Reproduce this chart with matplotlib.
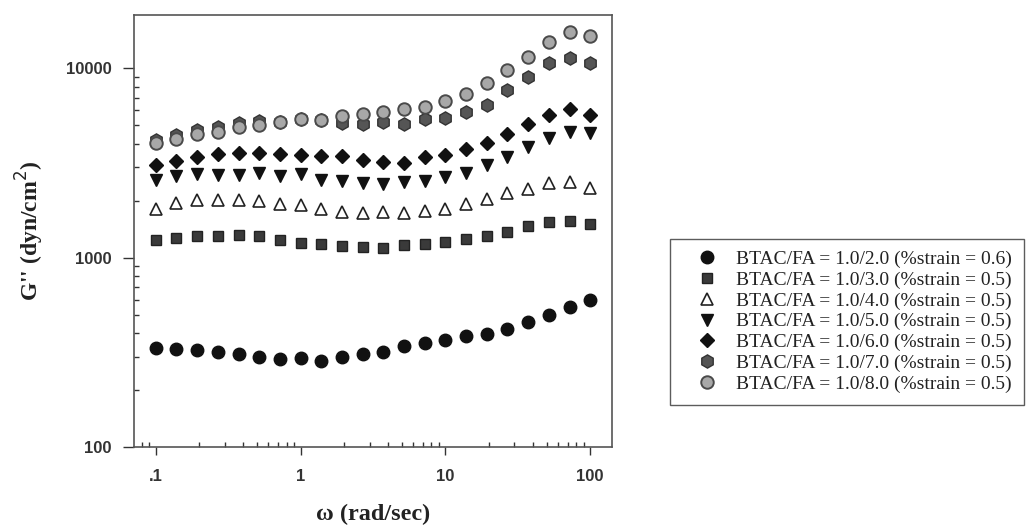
import numpy as np
import matplotlib
matplotlib.use("Agg")
import matplotlib.pyplot as plt
from matplotlib.ticker import FixedLocator, FixedFormatter, LogLocator, NullFormatter

# frequency (rad/sec): 22 points, 7 per decade from 0.1 to 100
omega = [0.1, 0.139, 0.193, 0.268, 0.373, 0.518, 0.72, 1.0, 1.39, 1.93, 2.68,
         3.73, 5.18, 7.2, 10.0, 13.9, 19.3, 26.8, 37.3, 51.8, 72.0, 100.0]

g_20 = [335, 330, 327, 317, 312, 299, 293, 295, 285, 298, 310, 318, 341, 355,
        366, 388, 398, 420, 456, 497, 547, 601]
g_30 = [1237, 1268, 1304, 1304, 1315, 1304, 1237, 1197, 1179, 1150, 1137, 1132,
        1165, 1189, 1212, 1253, 1304, 1369, 1467, 1546, 1565, 1516]
g_40 = [1804, 1957, 2013, 2013, 2030, 1996, 1934, 1894, 1820, 1746, 1734, 1755,
        1734, 1768, 1811, 1934, 2038, 2193, 2322, 2476, 2527, 2350]
g_50 = [2568, 2706, 2786, 2753, 2753, 2806, 2706, 2763, 2568, 2537, 2485, 2466,
        2515, 2537, 2673, 2820, 3083, 3411, 3851, 4318, 4624, 4534]
g_60 = [3109, 3236, 3411, 3512, 3581, 3581, 3554, 3481, 3452, 3440, 3276, 3209,
        3186, 3411, 3481, 3732, 4045, 4496, 5077, 5664, 6071, 5664]
g_70 = [4178, 4441, 4720, 4912, 5158, 5284, 5222, 5395, 5375, 5158, 5077, 5222,
        5120, 5441, 5482, 5896, 6450, 7678, 9030, 10627, 11405, 10627]
g_80 = [4045, 4215, 4479, 4623, 4912, 5015, 5222, 5395, 5375, 5617, 5714, 5896,
        6071, 6221, 6718, 7314, 8393, 9795, 11513, 13722, 15500, 14820]

labels = ["BTAC/FA = 1.0/2.0 (%strain = 0.6)",
          "BTAC/FA = 1.0/3.0 (%strain = 0.5)",
          "BTAC/FA = 1.0/4.0 (%strain = 0.5)",
          "BTAC/FA = 1.0/5.0 (%strain = 0.5)",
          "BTAC/FA = 1.0/6.0 (%strain = 0.5)",
          "BTAC/FA = 1.0/7.0 (%strain = 0.5)",
          "BTAC/FA = 1.0/8.0 (%strain = 0.5)"]

x_ticks = [0.1, 1, 10, 100]
x_ticklabels = [".1", "1", "10", "100"]
y_ticks = [100, 1000, 10000]
y_ticklabels = ["100", "1000", "10000"]

fig = plt.figure(figsize=(10.29, 5.26), dpi=100)
ax = fig.add_axes([0.130, 0.150, 0.465, 0.821])

styles = [
    dict(marker="o", ms=9, mfc="#111111", mec="#111111"),
    dict(marker="s", ms=7.5, mfc="#3a3a3a", mec="#222222"),
    dict(marker="^", ms=8.5, mfc="white", mec="#222222", mew=1.2),
    dict(marker="v", ms=8.5, mfc="#111111", mec="#111111"),
    dict(marker="D", ms=7.5, mfc="#111111", mec="#111111"),
    dict(marker="h", ms=9.5, mfc="#555555", mec="#333333", mew=1.0),
    dict(marker="o", ms=9, mfc="#a8a8a8", mec="#4a4a4a", mew=1.4),
]
series = [g_20, g_30, g_40, g_50, g_60, g_70, g_80]
for ys, st, lab in zip(series, styles, labels):
    ax.plot(omega, ys, linestyle="none", label=lab, **st)

ax.set_xscale("log")
ax.set_yscale("log")
ax.set_xlim(0.0705, 142)
ax.set_ylim(100, 19100)

ax.xaxis.set_major_locator(FixedLocator(x_ticks))
ax.xaxis.set_major_formatter(FixedFormatter(x_ticklabels))
ax.xaxis.set_minor_locator(LogLocator(base=10, subs=np.arange(2, 10)))
ax.xaxis.set_minor_formatter(NullFormatter())
ax.yaxis.set_major_locator(FixedLocator(y_ticks))
ax.yaxis.set_major_formatter(FixedFormatter(y_ticklabels))
ax.yaxis.set_minor_locator(LogLocator(base=10, subs=np.arange(2, 10)))
ax.yaxis.set_minor_formatter(NullFormatter())

ax.tick_params(which="major", direction="out", length=6, width=1, color="#333333",
               labelsize=12, labelcolor="#333333", pad=10)
ax.tick_params(which="minor", direction="in", length=3.5, width=1, color="#333333")
ax.tick_params(axis="y", which="major", length=8, pad=8)
for lab in ax.get_xticklabels() + ax.get_yticklabels():
    lab.set_fontfamily("Liberation Sans")
    lab.set_fontweight("bold")

for sp in ax.spines.values():
    sp.set_color("#555555")
    sp.set_linewidth(1.2)

ax.set_xlabel("ω (rad/sec)", fontfamily="Liberation Serif", fontweight="bold",
              fontsize=17.5, color="#222222", labelpad=14)
ax.set_ylabel("G'' (dyn/cm$^2$)", fontfamily="Liberation Serif", fontweight="bold",
              fontsize=17, color="#222222", labelpad=14)

leg = fig.legend(loc="upper left", bbox_to_anchor=(0.651, 0.546), frameon=True,
                 fancybox=False, edgecolor="#333333", borderpad=0.6,
                 labelspacing=0.16, handletextpad=0.2, handlelength=2.6,
                 borderaxespad=0,
                 prop={"family": "Liberation Serif", "size": 14})
leg.get_frame().set_linewidth(1.0)
for t in leg.get_texts():
    t.set_color("#222222")

fig.savefig("out.png", dpi=100)
